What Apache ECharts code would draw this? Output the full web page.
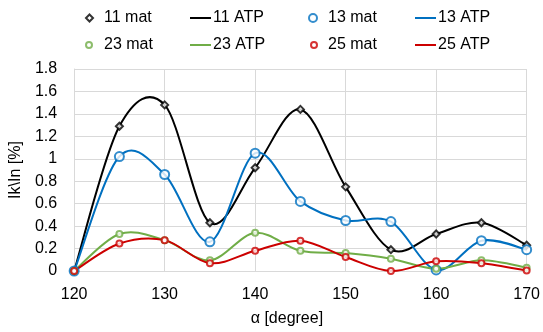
<!DOCTYPE html>
<html>
<head>
<meta charset="utf-8">
<script src="https://cdn.jsdelivr.net/npm/echarts@6/dist/echarts.min.js"></script>
<style>
  html, body { margin: 0; padding: 0; background: #fff; }
  #chart { width: 543px; height: 332px; }
</style>
</head>
<body>
<div id="chart"></div>
<script>
var angles = [120, 125, 130, 135, 140, 145, 150, 155, 160, 165, 170];
var h11 = [0, 1.29, 1.48, 0.43, 0.92, 1.44, 0.75, 0.19, 0.33, 0.43, 0.23];
var h13 = [0, 1.02, 0.86, 0.26, 1.05, 0.62, 0.45, 0.44, 0.01, 0.27, 0.19];
var h23 = [0, 0.33, 0.275, 0.095, 0.34, 0.18, 0.16, 0.11, 0.02, 0.095, 0.03];
var h25 = [0, 0.245, 0.275, 0.07, 0.18, 0.27, 0.125, 0, 0.086, 0.07, 0.005];

var font = 'Liberation Sans, Arial, sans-serif';

function pairs(ys) {
    return angles.map(function (a, i) { return [a, ys[i]]; });
}

function markSeries(name, ys, color, symbol, size) {
    return {
        name: name,
        type: 'scatter',
        data: pairs(ys),
        symbol: symbol,
        symbolSize: size,
        z: 3,
        itemStyle: { color: color, borderColor: color, borderWidth: 1 }
    };
}

// smoothed line like excel's: bezier through the points (catmull-rom style)
function curveSeries(name, ys, color) {
    return {
        name: name,
        type: 'custom',
        data: pairs(ys),
        z: 2,
        itemStyle: { color: color },
        renderItem: function (params, api) {
            if (params.dataIndex !== 0) return null;
            var pts = angles.map(function (a, i) { return api.coord([a, ys[i]]); });
            var n = pts.length;
            var d = 'M' + pts[0][0] + ' ' + pts[0][1];
            for (var i = 0; i < n - 1; i++) {
                var p0 = pts[Math.max(i - 1, 0)], p1 = pts[i], p2 = pts[i + 1], p3 = pts[Math.min(i + 2, n - 1)];
                var c1x = p1[0] + (p2[0] - p0[0]) / 6, c1y = p1[1] + (p2[1] - p0[1]) / 6;
                var c2x = p2[0] - (p3[0] - p1[0]) / 6, c2y = p2[1] - (p3[1] - p1[1]) / 6;
                d += ' C' + c1x + ' ' + c1y + ' ' + c2x + ' ' + c2y + ' ' + p2[0] + ' ' + p2[1];
            }
            return {
                type: 'path',
                shape: { pathData: d },
                style: { fill: null, stroke: color, lineWidth: 2 }
            };
        }
    };
}

function legendItem(name, icon, left, top, w, h, pad) {
    return {
        data: [{ name: name, icon: icon }],
        left: left,
        top: top,
        padding: 0,
        itemWidth: w,
        itemHeight: h,
        selectedMode: false,
        textStyle: { fontFamily: font, fontSize: 16, color: '#000', padding: [0, 0, 0, pad] }
    };
}

var chart = echarts.init(document.getElementById('chart'));
chart.setOption({
    animation: false,
    legend: [
        legendItem('11 mat', 'emptyDiamond', 85, 10, 7, 7, 6),
        legendItem('11 ATP', 'rect', 190, 10, 21, 2, -3),
        legendItem('13 mat', 'emptyCircle', 308, 10, 8, 8, 6),
        legendItem('13 ATP', 'rect', 415, 10, 21, 2, -3),
        legendItem('23 mat', 'emptyCircle', 85, 37, 6, 6, 7),
        legendItem('23 ATP', 'rect', 190, 37, 21, 2, -3),
        legendItem('25 mat', 'emptyCircle', 310, 37, 6, 6, 6),
        legendItem('25 ATP', 'rect', 415, 37, 21, 2, -3)
    ],
    grid: { left: 71, right: 13, top: 69, bottom: 60 },
    xAxis: {
        type: 'value',
        min: 120,
        max: 170,
        interval: 10,
        name: 'α [degree]',
        nameLocation: 'middle',
        nameGap: 40,
        nameTextStyle: { fontFamily: font, fontSize: 16, color: '#000', padding: [0, 27, 0, 0] },
        axisLine: { show: true, lineStyle: { color: '#D9D9D9', width: 1 } },
        axisTick: { show: false },
        axisLabel: { fontFamily: font, fontSize: 16, color: '#000', margin: 16 },
        splitLine: { show: true, lineStyle: { color: '#D9D9D9', width: 1 } }
    },
    yAxis: {
        type: 'value',
        min: 0,
        max: 1.8,
        interval: 0.2,
        name: 'Ik\\In [%]',
        nameLocation: 'middle',
        nameGap: 38,
        nameTextStyle: { fontFamily: font, fontSize: 16, color: '#000' },
        axisLine: { show: true, lineStyle: { color: '#D9D9D9', width: 1 } },
        axisTick: { show: false },
        axisLabel: { fontFamily: font, fontSize: 16, color: '#000', margin: 17 },
        splitLine: { show: true, lineStyle: { color: '#D9D9D9', width: 1 } }
    },
    series: [
        markSeries('11 mat', h11, '#000000', 'emptyDiamond', 7),
        curveSeries('11 ATP', h11, '#000000'),
        markSeries('13 mat', h13, '#0070C0', 'emptyCircle', 9),
        curveSeries('13 ATP', h13, '#0070C0'),
        markSeries('23 mat', h23, '#70AD47', 'emptyCircle', 6),
        curveSeries('23 ATP', h23, '#70AD47'),
        markSeries('25 mat', h25, '#CC0000', 'emptyCircle', 6),
        curveSeries('25 ATP', h25, '#CC0000')
    ]
});
</script>
</body>
</html>
